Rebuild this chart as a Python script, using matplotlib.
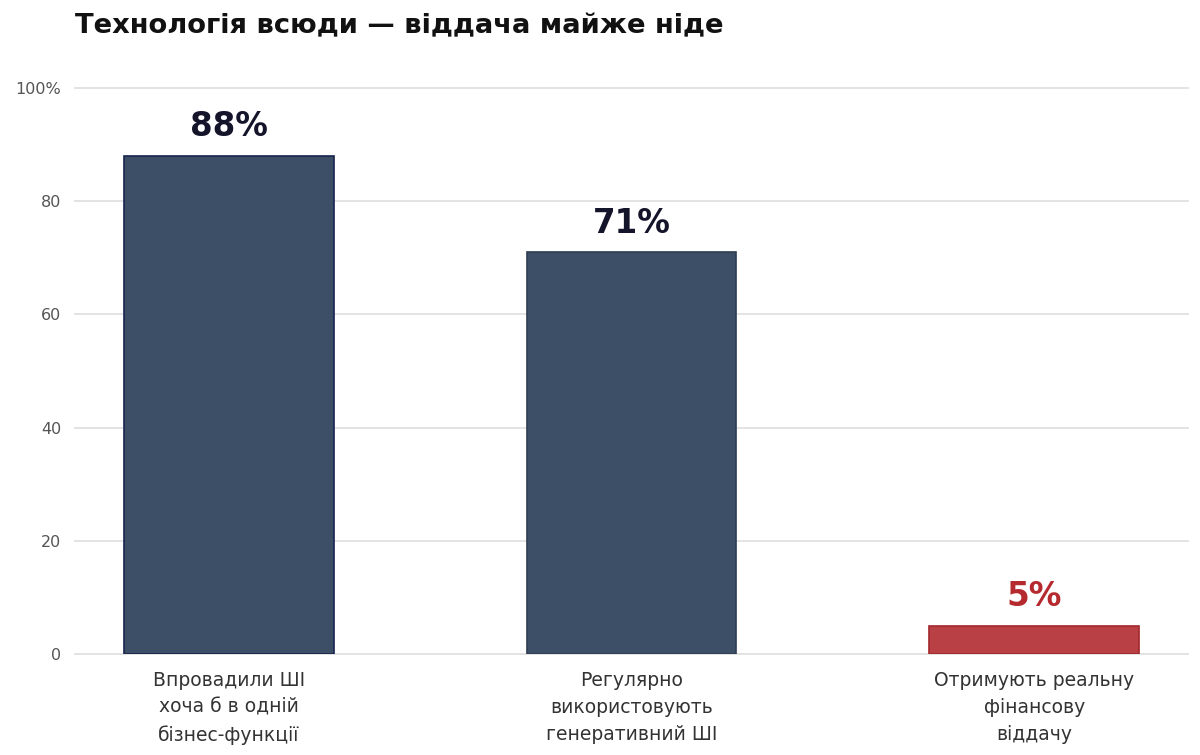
import matplotlib
matplotlib.use("Agg")
import matplotlib.pyplot as plt
from matplotlib.ticker import FixedLocator, FixedFormatter

categories = ["Впровадили ШІ\nхоча б в одній\nбізнес-функції",
              "Регулярно\nвикористовують\nгенеративний ШІ",
              "Отримують реальну\nфінансову\nвіддачу"]
values = [88, 71, 5]
value_labels = ["88%", "71%", "5%"]
bar_colors = ["#3d4f66", "#3d4f66", "#b94145"]
edge_colors = ["#1a2350", "#2e3d52", "#a3282d"]
label_colors = ["#14142a", "#14142a", "#b52a2f"]
yticks = [0, 20, 40, 60, 80, 100]
ytick_labels = ["0", "20", "40", "60", "80", "100%"]
title = "Технологія всюди — віддача майже ніде"

plt.rcParams['font.family'] = ['DejaVu Sans']
fig = plt.figure(figsize=(12, 7.55), dpi=100)
ax = fig.add_axes([75/1200, 1-654/755, (1188-75)/1200, (654-88)/755])

x = list(range(len(categories)))
bars = ax.bar(x, values, width=0.52, color=bar_colors, edgecolor=edge_colors, linewidth=1.2, zorder=3)
for xi, v, lab, c in zip(x, values, value_labels, label_colors):
    ax.annotate(lab, (xi, v), xytext=(0, 9), textcoords="offset points",
                ha="center", va="bottom", fontsize=23.5, fontweight="bold", color=c)

ax.set_xlim(-0.382, 2.382)
ax.set_ylim(0, 100)
ax.yaxis.set_major_locator(FixedLocator(yticks))
ax.yaxis.set_major_formatter(FixedFormatter(ytick_labels))
ax.set_xticks(x)
ax.set_xticklabels(categories, fontsize=13.5, color="#333333", linespacing=1.55)
ax.tick_params(axis="both", length=0)
ax.tick_params(axis="y", labelsize=11.5, colors="#555555", pad=10)
ax.tick_params(axis="x", pad=12)
ax.grid(axis="y", color="#e3e3e3", linewidth=1.4, zorder=0)
for gl in ax.get_ygridlines():
    gl.set_clip_on(False)
for s in ax.spines.values():
    s.set_visible(False)

fig.text(75/1200, 1-26/755, title, fontsize=19.7, fontweight="bold", color="#111111",
         ha="left", va="center")

fig.savefig("out.png", dpi=100)
